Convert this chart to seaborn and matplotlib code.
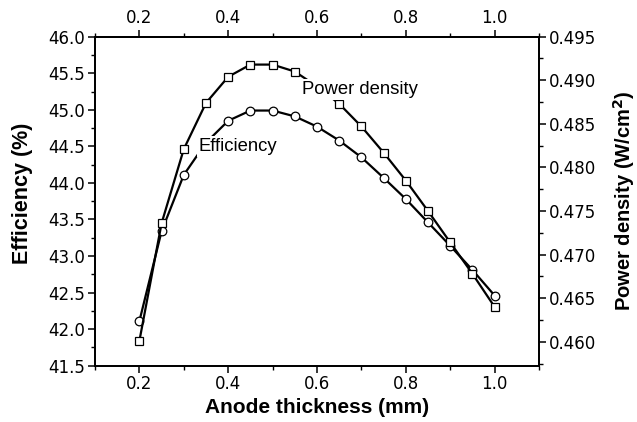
import numpy as np
import pandas as pd
import matplotlib
matplotlib.use("Agg")
import matplotlib.pyplot as plt
import seaborn as sns
from matplotlib.ticker import MultipleLocator, FormatStrFormatter

thickness = [0.20, 0.25, 0.30, 0.35, 0.40, 0.45, 0.50, 0.55, 0.60,
             0.65, 0.70, 0.75, 0.80, 0.85, 0.90, 0.95, 1.00]
efficiency = [42.11, 43.34, 44.11, 44.55, 44.85, 44.99, 44.99, 44.91, 44.77,
              44.58, 44.35, 44.07, 43.78, 43.46, 43.14, 42.81, 42.46]
power_density = [0.4601, 0.4736, 0.4821, 0.4874, 0.4904, 0.4918, 0.4918, 0.4910, 0.4893,
                 0.4873, 0.4847, 0.4817, 0.4785, 0.4750, 0.4714, 0.4678, 0.4640]
xticks = [0.2, 0.4, 0.6, 0.8, 1.0]

df = pd.DataFrame({"thickness": thickness, "efficiency": efficiency,
                   "power": power_density})

sns.set_theme(style="ticks")
plt.rcParams["font.family"] = ["DejaVu Sans"]
plt.rcParams["text.color"] = "black"
plt.rcParams["axes.labelcolor"] = "black"

fig = plt.figure(figsize=(6.37, 4.22), dpi=100)
ax = fig.add_axes([95/637, 1-365.7/422, 444/637, (365.7-36.7)/422])
ax2 = ax.twinx()

line_kw = dict(color="black", linewidth=1.6, markersize=6.2,
               markerfacecolor="white", markeredgecolor="black",
               markeredgewidth=0.9)
sns.lineplot(data=df, x="thickness", y="efficiency", ax=ax, marker="o", **line_kw)
sns.lineplot(data=df, x="thickness", y="power", ax=ax2, marker="s",
             **{**line_kw, "markersize": 5.6})

ax.set_xlim(0.1, 1.1)
ax.set_ylim(41.5, 46.0)
ax2.set_ylim(0.45725, 0.495)

ax.set_xticks(xticks)
ax.xaxis.set_major_formatter(FormatStrFormatter("%.1f"))
ax.xaxis.set_minor_locator(MultipleLocator(0.1))
ax.yaxis.set_major_locator(MultipleLocator(0.5))
ax.yaxis.set_minor_locator(MultipleLocator(0.25))
ax.yaxis.set_major_formatter(FormatStrFormatter("%.1f"))
ax2.yaxis.set_major_locator(MultipleLocator(0.005))
ax2.yaxis.set_minor_locator(MultipleLocator(0.0025))
ax2.yaxis.set_major_formatter(FormatStrFormatter("%.3f"))

secx = ax.secondary_xaxis("top")
secx.set_xticks(xticks)
secx.xaxis.set_major_formatter(FormatStrFormatter("%.1f"))
secx.xaxis.set_minor_locator(MultipleLocator(0.1))

for a in (ax, ax2, secx):
    a.tick_params(which="major", direction="out", length=5, width=1.1,
                  labelsize=12, color="black", labelcolor="black", pad=2)
    a.tick_params(which="minor", direction="out", length=2.6, width=1.0, color="black")
for a in (ax, ax2, secx):
    for s in a.spines.values():
        s.set_linewidth(1.3)
        s.set_color("black")

lab_font = dict(family="Liberation Sans", fontweight="bold", color="black")
ax.set_xlabel("Anode thickness (mm)", labelpad=3, fontsize=15, **lab_font)
ax.set_ylabel("Efficiency (%)", fontsize=15.5, **lab_font)
ax2.set_ylabel("Power density (W/cm$^\\mathbf{2}$)", rotation=90, fontsize=14.5, **lab_font)
ax.yaxis.set_label_coords(22.5/637, 1-193/422, transform=fig.transFigure)
ax2.yaxis.set_label_coords(624.5/637, 1-201/422, transform=fig.transFigure)
ax.yaxis.label.set_verticalalignment("center")
ax2.yaxis.label.set_verticalalignment("center")
ax.yaxis.label.set_horizontalalignment("center")
ax2.yaxis.label.set_horizontalalignment("center")

txt_kw = dict(family="Liberation Sans", fontsize=13.3, color="black", zorder=10,
              va="center", ha="left",
              bbox=dict(facecolor="white", edgecolor="none", pad=1.5))
ax2.text(0.566, 0.4889, "Power density", **txt_kw)
ax2.text(0.334, 0.48236, "Efficiency", **txt_kw)
ax2.set_zorder(ax.get_zorder() + 1)
ax2.patch.set_visible(False)

fig.savefig("out.png", dpi=100)
